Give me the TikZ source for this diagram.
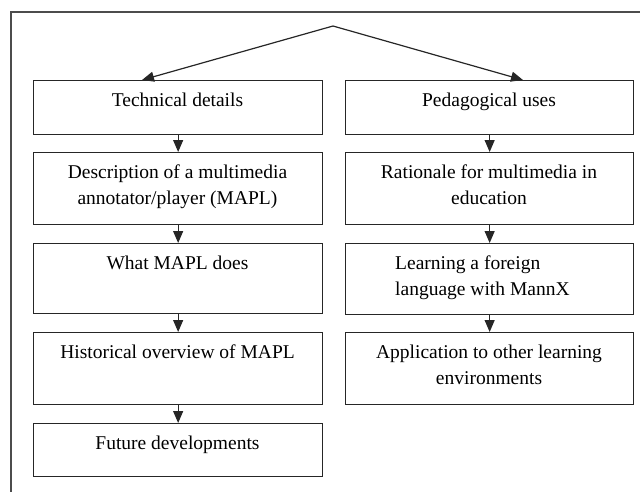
\documentclass[tikz,border=0pt]{standalone}
\usepackage{fontspec}
\setmainfont{Liberation Serif}
\newfontfamily\boxfont{Liberation Serif}
\usetikzlibrary{arrows.meta}
\begin{document}
\begin{tikzpicture}[x=1pt,y=-1pt,
  box/.style={draw=black!85,line width=1.3pt,rectangle,inner sep=0pt,anchor=north west},
  lbl/.style={font=\boxfont\fontsize{19.5}{26}\selectfont,align=center,anchor=base,inner sep=0pt},
  arr/.style={draw=black!85,line width=1.2pt,-{Triangle[length=12pt,width=10pt]}},
  frame/.style={draw=black!70,line width=1.3pt}]
\useasboundingbox (0,0) rectangle (640,491);
\draw[frame] (11,495) -- (11,12) -- (645,12);
% left column
\node[box,minimum width=289pt,minimum height=54pt] (l1) at (33,80) {};
\node[box,minimum width=289pt,minimum height=72pt] (l2) at (33,152) {};
\node[box,minimum width=289pt,minimum height=70pt] (l3) at (33,243) {};
\node[box,minimum width=289pt,minimum height=72pt] (l4) at (33,332) {};
\node[box,minimum width=289pt,minimum height=53pt] (l5) at (33,423) {};
% right column
\node[box,minimum width=288pt,minimum height=54pt] (r1) at (345,80) {};
\node[box,minimum width=288pt,minimum height=72pt] (r2) at (345,152) {};
\node[box,minimum width=288pt,minimum height=71pt] (r3) at (345,243) {};
\node[box,minimum width=288pt,minimum height=72pt] (r4) at (345,332) {};
% labels (base anchor = baseline of last line)
\node[lbl] (tl1) at (177.5,106) {Technical details};
\node[lbl] (tl2) at (177.5,204) {Description of a multimedia\\annotator/player (MAPL)};
\node[lbl] (tl3) at (177.5,269) {What MAPL does};
\node[lbl] (tl4) at (177.5,358) {Historical overview of MAPL};
\node[lbl] (tl5) at (177.5,449) {Future developments};
\node[lbl] (tr1) at (489,106) {Pedagogical uses};
\node[lbl] (tr2) at (489,204) {Rationale for multimedia in\\education};
\node[lbl,align=left,anchor=base west] (tr3) at (395,295) {Learning a foreign\\language with MannX};
\node[lbl] (tr4) at (489,384) {Application to other learning\\environments};
% connectors
\coordinate (apex) at (333,26);
\coordinate (tipL) at (142,80);
\coordinate (tipR) at (523,80);
\draw[arr] (apex) -- (tipL);
\draw[arr] (apex) -- (tipR);
\draw[arr] (l1.south) -- (l2.north);
\draw[arr] (l2.south) -- (l3.north);
\draw[arr] (l3.south) -- (l4.north);
\draw[arr] (l4.south) -- (l5.north);
\draw[arr] (r1.south) -- (r2.north);
\draw[arr] (r2.south) -- (r3.north);
\draw[arr] (r3.south) -- (r4.north);
\end{tikzpicture}
\end{document}
